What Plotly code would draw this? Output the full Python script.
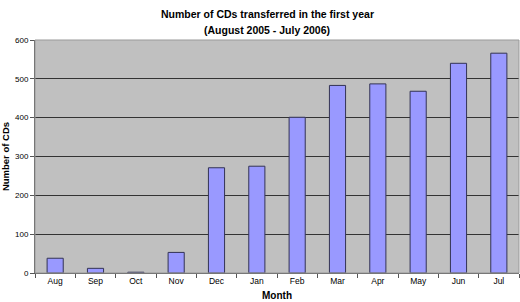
import plotly.graph_objects as go

months = ["Aug", "Sep", "Oct", "Nov", "Dec", "Jan", "Feb", "Mar", "Apr", "May", "Jun", "Jul"]
cds = [38, 12, 2, 53, 271, 275, 401, 483, 487, 468, 540, 566]
y_ticks = [0, 100, 200, 300, 400, 500, 600]
title_lines = ["Number of CDs transferred in the first year", "(August 2005 - July 2006)"]

fig = go.Figure()
fig.add_trace(go.Bar(
    x=months, y=cds, width=0.4,
    marker=dict(color="#9999FF", line=dict(color="#333355", width=1)),
))

fig.update_layout(
    width=520, height=302,
    margin=dict(l=32, r=1, t=40, b=29),
    paper_bgcolor="white",
    plot_bgcolor="#C0C0C0",
    showlegend=False,
    font=dict(family="Liberation Sans, Arial", color="black"),
    xaxis=dict(
        type="category",
        tickson="boundaries",
        ticks="outside", ticklen=4, tickcolor="#555555",
        showline=True, linecolor="#555555", linewidth=1,
        tickfont=dict(size=8.5),
        title=dict(text="<b>Month</b>", font=dict(size=10), standoff=6),
        showgrid=False,
    ),
    yaxis=dict(
        range=[0, 600],
        tickvals=y_ticks,
        ticks="outside", ticklen=4, tickcolor="#555555",
        showline=True, linecolor="#555555", linewidth=1,
        tickfont=dict(size=8),
        gridcolor="#333333", gridwidth=1,
        zeroline=False,
        title=dict(text="<b>Number of CDs</b>", font=dict(size=9.5), standoff=7),
    ),
)
for i, line in enumerate(title_lines):
    fig.add_annotation(text="<b>" + line + "</b>", xref="paper", yref="paper",
                       x=0.5 - 1 / 487 * 10, y=1, yshift=26 - 16 * i, xanchor="center", yanchor="middle",
                       showarrow=False, font=dict(size=10.5, color="black"))
fig.add_shape(type="rect", xref="paper", yref="paper", x0=0, y0=0, x1=1, y1=1,
              line=dict(color="#999999", width=1), layer="above")
fig.write_html("out.html", config={"displayModeBar": False},
               post_script="document.body.style.margin='0';document.body.style.overflow='hidden';")
